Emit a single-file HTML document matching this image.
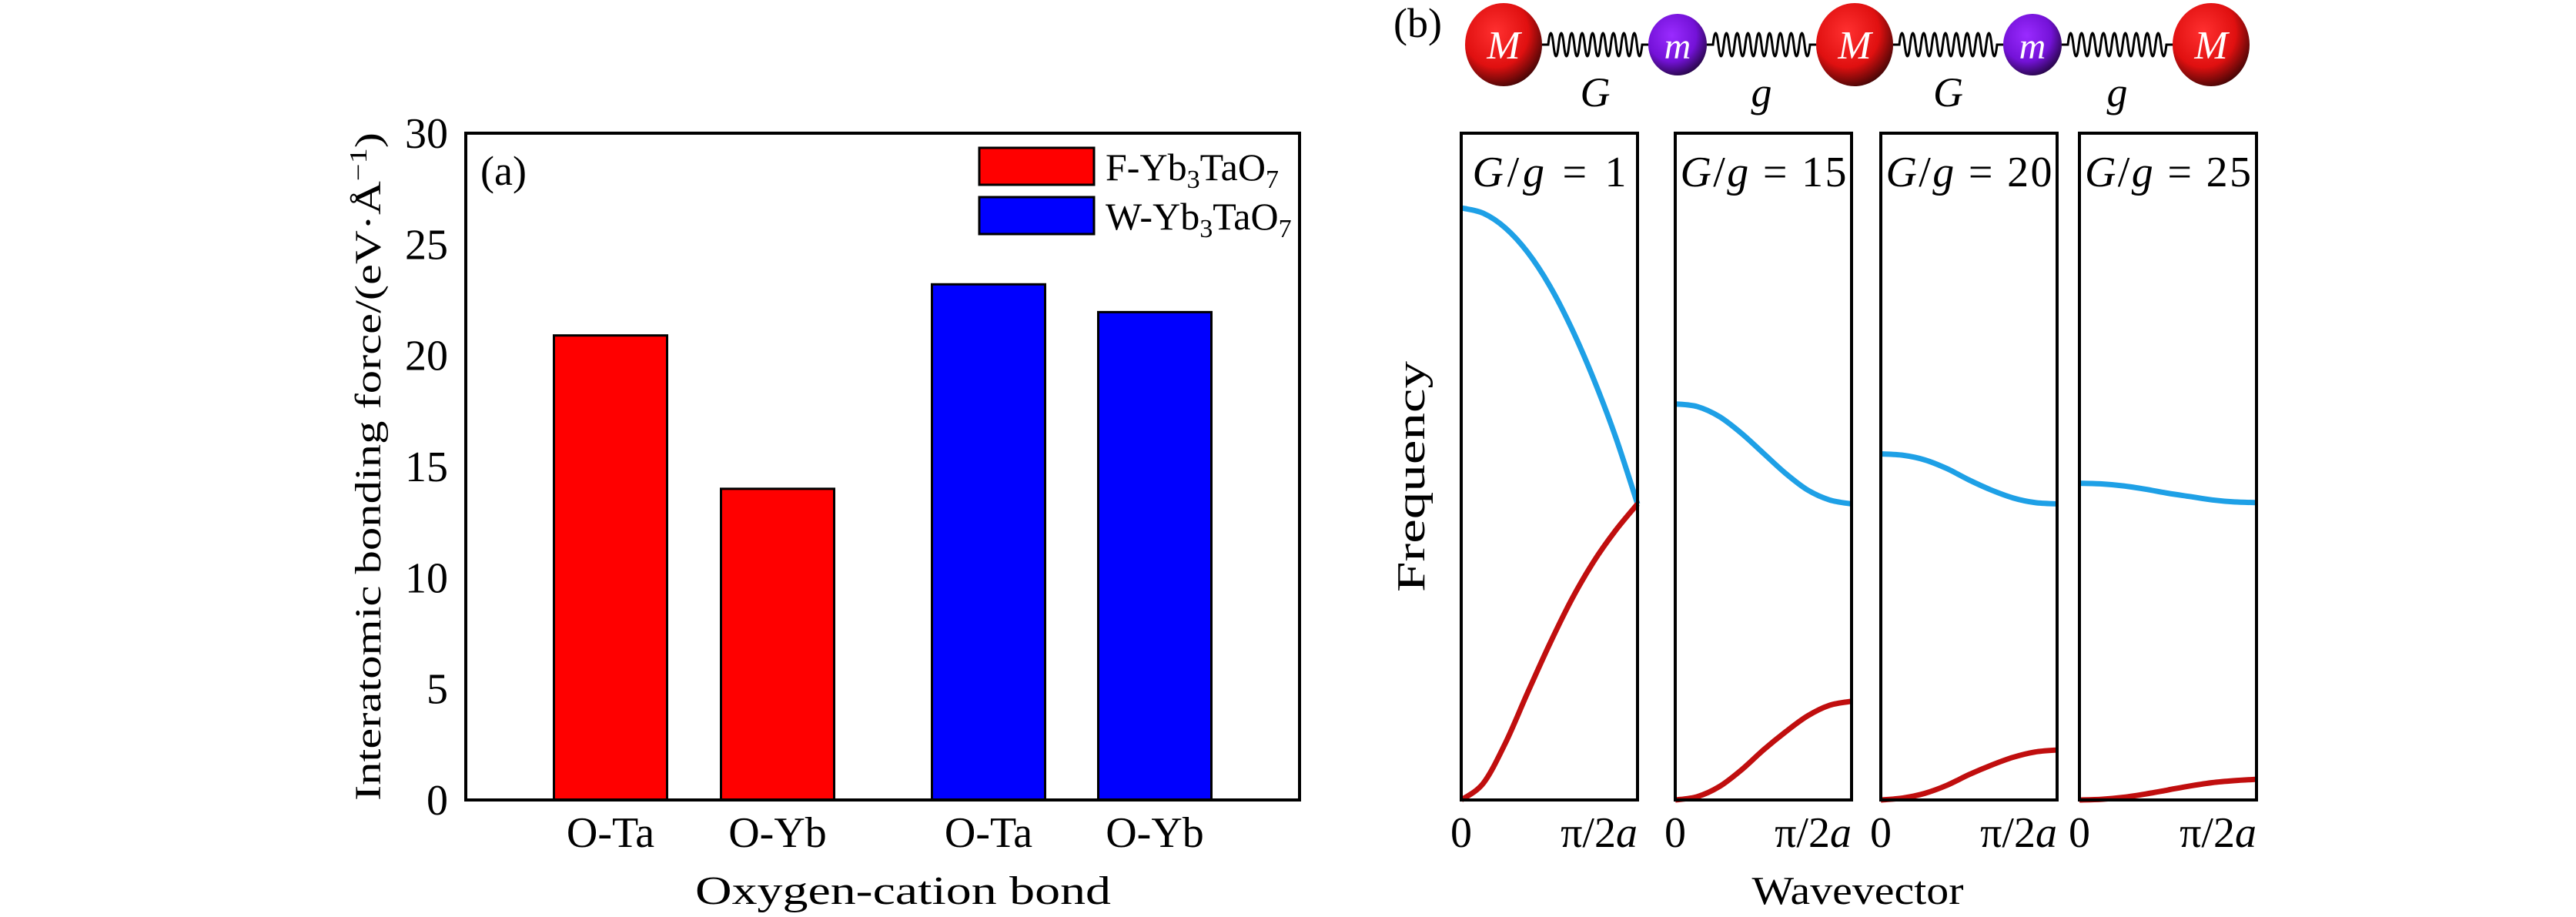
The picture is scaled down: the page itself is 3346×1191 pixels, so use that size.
<!DOCTYPE html>
<html><head><meta charset="utf-8"><style>
html,body{margin:0;padding:0;background:#fff;}
svg{display:block;font-family:"Liberation Serif",serif;}
</style></head><body>
<svg id="fig" width="3346" height="1191" viewBox="0 0 3346 1191" xmlns="http://www.w3.org/2000/svg">
<defs>
<radialGradient id="gM" cx="0.4" cy="0.35" r="0.7"><stop offset="0" stop-color="#ff3030"/><stop offset="0.6" stop-color="#e01010"/><stop offset="1" stop-color="#3a0505"/></radialGradient>
<radialGradient id="gm" cx="0.4" cy="0.35" r="0.7"><stop offset="0" stop-color="#9a2bff"/><stop offset="0.6" stop-color="#7412d8"/><stop offset="1" stop-color="#22053f"/></radialGradient>
</defs>
<g id="panelA"></g>
<g id="panelB"></g>
</svg>
<script>
// ---------- Panel (a) data ----------
const categories = ["O-Ta","O-Yb","O-Ta","O-Yb"];
const barValues = [20.9, 14.0, 23.2, 21.95];
const barSeries = ["F","F","W","W"];
const yTicks = [0,5,10,15,20,25,30];

// ---------- Panel (b) data ----------
const ratioLabels = ["1","15","20","25"];
const qSamples = [0,0.125,0.25,0.375,0.5,0.625,0.75,0.875,1];
const optical1 = [0.888,0.880,0.858,0.822,0.772,0.708,0.632,0.545,0.444];
const acoustic1 = [0,0.025,0.085,0.160,0.233,0.300,0.357,0.404,0.444];
const optical15 = [0.594,0.590,0.575,0.550,0.520,0.490,0.465,0.450,0.444];
const acoustic15 = [0,0.005,0.020,0.045,0.075,0.102,0.126,0.142,0.148];
const optical20 = [0.519,0.517,0.510,0.497,0.480,0.465,0.453,0.446,0.444];
const acoustic20 = [0,0.003,0.010,0.022,0.038,0.052,0.064,0.072,0.075];
const optical25 = [0.475,0.474,0.471,0.466,0.460,0.455,0.450,0.447,0.446];
const acoustic25 = [0,0.001,0.004,0.009,0.015,0.021,0.026,0.029,0.031];

const NS="http://www.w3.org/2000/svg";
function mk(parent,tag,attrs,text){const e=document.createElementNS(NS,tag);for(const k in attrs)e.setAttribute(k,attrs[k]);if(text!==undefined)e.textContent=text;parent.appendChild(e);return e;}

// ---------- Panel A ----------
const A=document.getElementById('panelA');
const ax={l:605,r:1688,t:173,b:1039};
const yA=v=>ax.b-(v/30)*(ax.b-ax.t);
const barCenters=[793,1010,1284,1500];
const barW=147;
categories.forEach((c,i)=>{
  const r=mk(A,'rect',{x:barCenters[i]-barW/2,y:yA(barValues[i]),width:barW,height:yA(0)-yA(barValues[i]),fill:barSeries[i]==="F"?"#ff0000":"#0000ff",stroke:"#000","stroke-width":3});
  
  
  const t=mk(A,'text',{x:barCenters[i],y:1100,"font-size":56,"text-anchor":"middle"},c);
  
  
});
const frame=mk(A,'rect',{x:ax.l,y:ax.t,width:ax.r-ax.l,height:ax.b-ax.t,fill:"none",stroke:"#000","stroke-width":4});


yTicks.forEach(v=>{
  const t=mk(A,'text',{x:582,y:yA(v)+19,"font-size":56,"text-anchor":"end"},String(v));
  
  
});
let t;
t=mk(A,'text',{x:624,y:240,"font-size":54},"(a)");


t=mk(A,'text',{x:0,y:0,"font-size":48,"text-anchor":"middle",transform:"translate(494,606) rotate(-90)",textLength:868,lengthAdjust:"spacingAndGlyphs"});
t.innerHTML='Interatomic bonding force/(eV·Å<tspan dy="-18" font-size="32">−1</tspan><tspan dy="18">)</tspan>';


t=mk(A,'text',{x:1173,y:1174,"font-size":52,"text-anchor":"middle",textLength:540,lengthAdjust:"spacingAndGlyphs"},"Oxygen-cation bond");


[["F","#ff0000",192],["W","#0000ff",256]].forEach(([s,col,y])=>{
  const g=mk(A,'g',{});
  
  
  mk(g,'rect',{x:1272,y:y,width:149,height:48,fill:col,stroke:"#000","stroke-width":3});
  const tx=mk(g,'text',{x:1436,y:y+42,"font-size":50});
  tx.innerHTML=s+'-Yb<tspan dy="10" font-size="34">3</tspan><tspan dy="-10">TaO</tspan><tspan dy="10" font-size="34">7</tspan>';
});

// ---------- Panel B ----------
const B=document.getElementById('panelB');
const frames=[[1898,2127],[2176,2405],[2443,2672],[2701,2931]];
const fT=173,fB=1039;
const opticals=[optical1,optical15,optical20,optical25];
const acoustics=[acoustic1,acoustic15,acoustic20,acoustic25];
function curve(vals,x0,x1){
  const xs=q=>x0+q*(x1-x0), ys=v=>fB-v*(fB-fT);
  const p=qSamples.map((q,i)=>[xs(q),ys(vals[i])]);
  let d='M'+p[0][0]+','+p[0][1];
  for(let i=0;i<p.length-1;i++){
    const p0=p[Math.max(0,i-1)],p1=p[i],p2=p[i+1],p3=p[Math.min(p.length-1,i+2)];
    const c1=[p1[0]+(p2[0]-p0[0])/6,p1[1]+(p2[1]-p0[1])/6],c2=[p2[0]-(p3[0]-p1[0])/6,p2[1]-(p3[1]-p1[1])/6];
    d+=' C'+c1[0]+','+c1[1]+' '+c2[0]+','+c2[1]+' '+p2[0]+','+p2[1];
  }
  return d;
}
frames.forEach(([x0,x1],i)=>{
  const g=mk(B,'g',{});
  
  
  const o=mk(g,'path',{d:curve(opticals[i],x0,x1),fill:"none",stroke:"#1ea0e6","stroke-width":7});
  
  
  const a=mk(g,'path',{d:curve(acoustics[i],x0,x1),fill:"none",stroke:"#c00e0e","stroke-width":7});
  
  
  const fr=mk(g,'rect',{x:x0,y:fT,width:x1-x0,height:fB-fT,fill:"none",stroke:"#000","stroke-width":4});
  
  
  const lab=mk(g,'text',{x:(x0+x1)/2,y:242,"font-size":56,"text-anchor":"middle",textLength:(i===0?200:216),lengthAdjust:"spacing"});
  lab.innerHTML='<tspan font-style="italic">G</tspan>/<tspan font-style="italic">g</tspan> = '+ratioLabels[i];
  
  
  const t0=mk(g,'text',{x:x0,y:1100,"font-size":56,"text-anchor":"middle"},"0");
  
  
  const t1=mk(g,'text',{x:x1,y:1100,"font-size":56,"text-anchor":"end"});
  t1.innerHTML='π/2<tspan font-style="italic">a</tspan>';
  
  
});
t=mk(B,'text',{x:0,y:0,"font-size":52,"text-anchor":"middle",transform:"translate(1850,619) rotate(-90)",textLength:300,lengthAdjust:"spacingAndGlyphs"},"Frequency");


t=mk(B,'text',{x:2413,y:1174,"font-size":52,"text-anchor":"middle",textLength:275,lengthAdjust:"spacingAndGlyphs"},"Wavevector");


t=mk(B,'text',{x:1810,y:48,"font-size":54},"(b)");



// chain diagram
const chain=mk(B,'g',{});


const atoms=[[1953,'M'],[2179,'m'],[2409,'M'],[2640,'m'],[2872,'M']];
const cy=58;
for(let i=0;i<atoms.length-1;i++){
  const xa=atoms[i][0]+(atoms[i][1]==='M'?50:38), xb=atoms[i+1][0]-(atoms[i+1][1]==='M'?50:38);
  let d='M'+xa+','+cy+' L'+(xa+8)+','+cy;
  const n=9, s0=xa+8, s1=xb-8, w=(s1-s0)/n;
  for(let k=0;k<n;k++){const x=s0+k*w;d+=' Q'+(x+w*0.25)+','+(cy-30)+' '+(x+w*0.5)+','+cy+' Q'+(x+w*0.75)+','+(cy+30)+' '+(x+w)+','+cy;}
  d+=' L'+xb+','+cy;
  const sp=mk(chain,'path',{d:d,fill:"none",stroke:"#000","stroke-width":3});
  
  
  const sl=mk(chain,'text',{x:(xa+xb)/2,y:138,"font-size":54,"font-style":"italic","text-anchor":"middle"},i%2===0?'G':'g');
  
  
}
atoms.forEach(([x,type])=>{
  const big=type==='M';
  const e=mk(chain,'ellipse',{cx:x,cy:cy,rx:big?50:38,ry:big?54:40,fill:big?'url(#gM)':'url(#gm)'});
  
  
  const l=mk(chain,'text',{x:x,y:cy+18,"font-size":big?52:48,"font-style":"italic",fill:"#fff","text-anchor":"middle"},type);
  
  
});
</script>
</body></html>
